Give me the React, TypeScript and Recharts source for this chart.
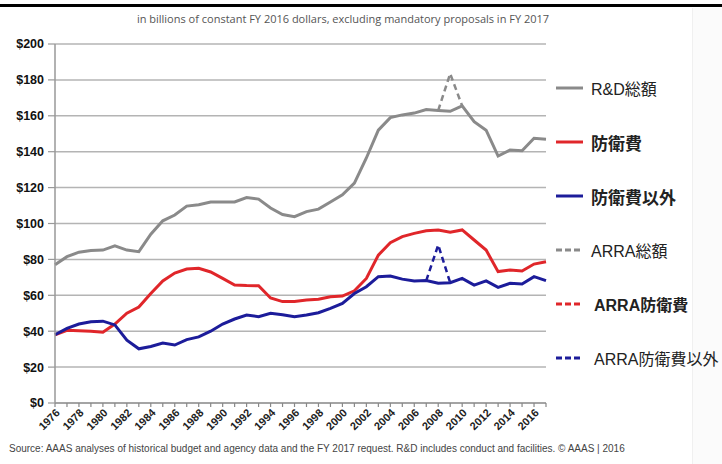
import React from 'react';
import { LineChart, Line, XAxis, YAxis, CartesianGrid } from 'recharts';

const years = [
  1976, 1977, 1978, 1979, 1980, 1981, 1982, 1983, 1984, 1985, 1986, 1987, 1988, 1989,
  1990, 1991, 1992, 1993, 1994, 1995, 1996, 1997, 1998, 1999, 2000, 2001, 2002, 2003,
  2004, 2005, 2006, 2007, 2008, 2009, 2010, 2011, 2012, 2013, 2014, 2015, 2016, 2017,
];

const rdTotal = [
  77, 81.5, 84, 85, 85.2, 87.5, 85.2, 84.3, 94, 101.5, 104.7, 109.7, 110.5, 112,
  112, 112, 114.5, 113.6, 108.6, 105, 103.8, 106.6, 108, 112, 116, 122.5, 136.5, 152,
  159, 160.5, 161.5, 163.5, 163, 162.5, 165.5, 156.7, 152, 137.6, 141, 140.5, 147.5, 147,
];

const defense = [
  38, 40.5, 40.2, 40, 39.4, 44, 50, 53.5, 61, 68, 72.4, 74.6, 75, 73,
  69.4, 65.7, 65.4, 65.3, 58.5, 56.5, 56.5, 57.4, 57.8, 59.2, 59.6, 62.5, 69.4, 82.4,
  89.3, 92.7, 94.5, 96, 96.4, 95.1, 96.4, 90.8, 85.2, 73.2, 74.1, 73.5, 77.4, 78.7,
];

const nonDefense = [
  38, 41.6, 44, 45.3, 45.6, 43.5, 35, 30.2, 31.5, 33.4, 32.3, 35.3, 36.8, 40,
  44, 46.8, 49, 48.1, 50, 49.2, 48, 49, 50.3, 52.7, 55.5, 61, 64.8, 70.4,
  70.7, 69, 68, 68.2, 66.7, 67, 69.4, 65.7, 68, 64.4, 66.7, 66.3, 70.4, 68.2,
];

const arraTotalYears = [2008, 2009, 2010];
const arraTotal = [163, 183.5, 165.5];

const arraNonDefenseYears = [2007, 2008, 2009];
const arraNonDefense = [68.2, 88, 67];

const yTicks = [0, 20, 40, 60, 80, 100, 120, 140, 160, 180, 200];

const legendItems = [
  { label: 'R&D総額', color: '#8a8a8a', dashed: false, size: 16, weight: 400, indent: 0 },
  { label: '防衛費', color: '#e0262a', dashed: false, size: 17, weight: 700, indent: 0 },
  { label: '防衛費以外', color: '#1c1c9a', dashed: false, size: 17, weight: 700, indent: 0 },
  { label: 'ARRA総額', color: '#8a8a8a', dashed: true, size: 16, weight: 400, indent: 0 },
  { label: 'ARRA防衛費', color: '#e0262a', dashed: true, size: 16, weight: 700, indent: 3 },
  { label: 'ARRA防衛費以外', color: '#1c1c9a', dashed: true, size: 16, weight: 400, indent: 3 },
];

const data = years.map((year, i) => {
  const ai = arraTotalYears.indexOf(year);
  const bi = arraNonDefenseYears.indexOf(year);
  return {
    year,
    total: rdTotal[i],
    defense: defense[i],
    nondefense: nonDefense[i],
    arraTotal: ai >= 0 ? arraTotal[ai] : null,
    arraNonDefense: bi >= 0 ? arraNonDefense[bi] : null,
  };
});

export default function App() {
  return (
    <div
      style={{
        position: 'absolute',
        left: 0,
        top: 0,
        width: 722,
        height: 464,
        background: '#fff',
        overflow: 'hidden',
        fontFamily: "'Liberation Sans', Arial, sans-serif",
      }}
    >
      <div style={{ position: 'absolute', left: 692, top: 8, width: 30, height: 456, background: '#fbfbfb', borderLeft: '1px solid #f0f0f0' }} />
      <div style={{ position: 'absolute', left: 0, top: 4, width: 722, height: 3, background: '#000' }} />
      <div
        style={{
          position: 'absolute',
          left: 0,
          top: 11,
          width: 686,
          textAlign: 'center',
          fontSize: 11,
          color: '#555',
          fontFamily: "'Open Sans', 'Liberation Sans', sans-serif",
        }}
      >
        in billions of constant FY 2016 dollars, excluding mandatory proposals in FY 2017
      </div>
      <div style={{ position: 'absolute', left: 0, top: 0 }}>
        <LineChart
          width={722}
          height={464}
          data={data}
          margin={{ top: 44, right: 176, bottom: 21, left: 0 }}
        >
          <CartesianGrid vertical={false} stroke="#b4b4b4" strokeWidth={1.5} />
          <XAxis
            dataKey="year"
            type="number"
            domain={[1976, 2017]}
            ticks={years}
            interval={0}
            height={40}
            tickFormatter={(v: number) => (v % 2 === 0 ? String(v) : '')}
            tick={{
              angle: -45,
              textAnchor: 'end',
              fill: '#222',
              fontSize: 11,
              fontWeight: 700,
              fontFamily: "'Liberation Sans', Arial, sans-serif",
            }}
            tickSize={4}
            tickMargin={1}
            tickLine={{ stroke: '#888', strokeWidth: 1.2 }}
            axisLine={{ stroke: '#999', strokeWidth: 1.5 }}
          />
          <YAxis
            domain={[0, 200]}
            ticks={yTicks}
            width={55}
            tickSize={7}
            tickMargin={4}
            tickFormatter={(v: number) => `$${v}`}
            tick={{ fill: '#111', fontSize: 12.5, fontWeight: 700, fontFamily: "'Liberation Sans', Arial, sans-serif" }}
            tickLine={{ stroke: '#999', strokeWidth: 1.2 }}
            axisLine={{ stroke: '#999', strokeWidth: 1.5 }}
          />
          <Line dataKey="total" stroke="#8a8a8a" strokeWidth={3} dot={false} isAnimationActive={false} />
          <Line dataKey="defense" stroke="#e0262a" strokeWidth={3} dot={false} isAnimationActive={false} />
          <Line dataKey="nondefense" stroke="#1c1c9a" strokeWidth={3} dot={false} isAnimationActive={false} />
          <Line dataKey="arraTotal" stroke="#8a8a8a" strokeWidth={2.5} strokeDasharray="6 4" dot={false} isAnimationActive={false} />
          <Line dataKey="arraNonDefense" stroke="#1c1c9a" strokeWidth={2.5} strokeDasharray="6 4" dot={false} isAnimationActive={false} />
        </LineChart>
      </div>
      {legendItems.map((it, i) => (
        <div
          key={it.label}
          style={{
            position: 'absolute',
            left: 556,
            top: 88 + i * 54 - 12,
            height: 24,
            display: 'flex',
            alignItems: 'center',
          }}
        >
          <svg width={30} height={6} style={{ display: 'block' }}>
            <line
              x1={0}
              y1={3}
              x2={27}
              y2={3}
              stroke={it.color}
              strokeWidth={3}
              strokeDasharray={it.dashed ? '6 3' : undefined}
            />
          </svg>
          <span
            style={{
              marginLeft: 5 + it.indent,
              fontSize: it.size,
              fontWeight: it.weight,
              color: '#222',
              fontFamily: "'Liberation Sans', 'Noto Sans CJK JP', sans-serif",
              whiteSpace: 'nowrap',
            }}
          >
            {it.label}
          </span>
        </div>
      ))}
      <div
        style={{
          position: 'absolute',
          left: 9,
          top: 443,
          fontSize: 10,
          color: '#444',
          whiteSpace: 'nowrap',
          fontFamily: "'Liberation Sans', Arial, sans-serif",
        }}
      >
        Source: AAAS analyses of historical budget and agency data and the FY 2017 request. R&amp;D includes conduct and facilities. © AAAS | 2016
      </div>
    </div>
  );
}
